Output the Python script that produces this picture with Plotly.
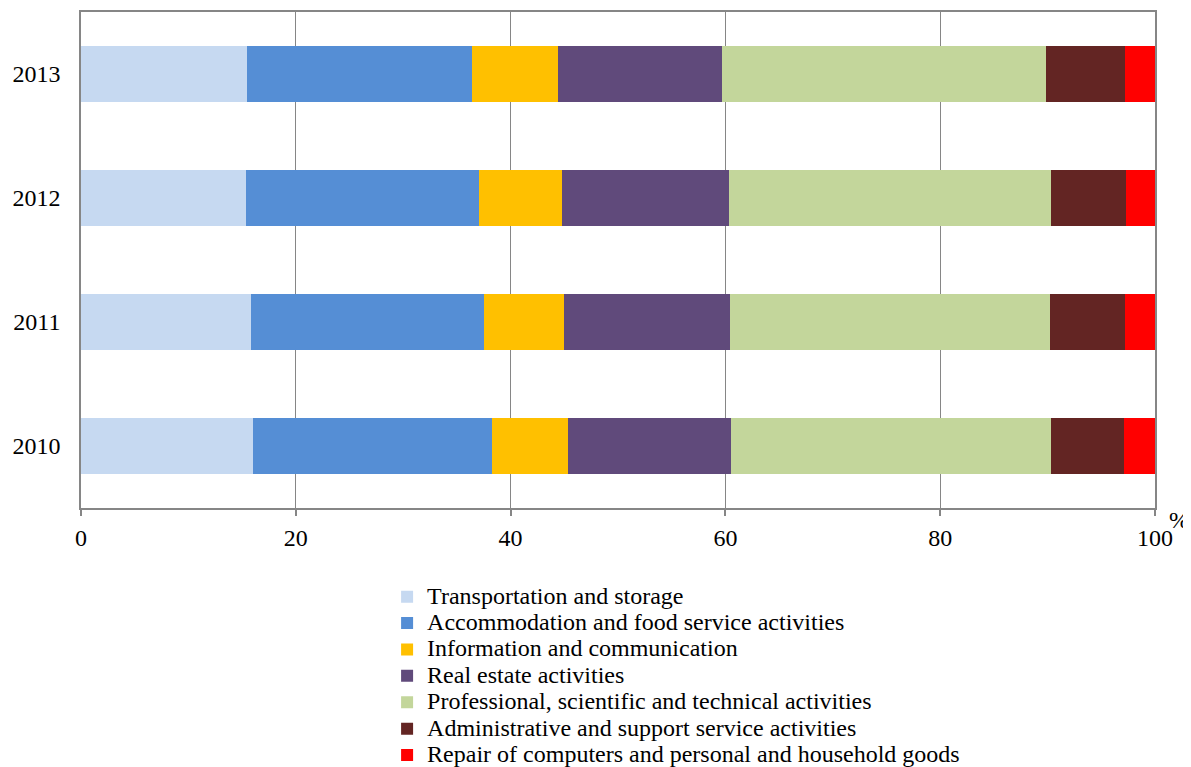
import plotly.graph_objects as go

years = ["2010", "2011", "2012", "2013"]
series_names = [
    "Transportation and storage",
    "Accommodation and food service activities",
    "Information and communication",
    "Real estate activities",
    "Professional, scientific and technical activities",
    "Administrative and support service activities",
    "Repair of computers and personal and household goods",
]
transport = [16.0, 15.8, 15.4, 15.5]
accommodation = [22.3, 21.7, 21.7, 20.9]
information = [7.0, 7.5, 7.7, 8.0]
real_estate = [15.2, 15.4, 15.5, 15.3]
professional = [29.8, 29.8, 30.0, 30.15]
administrative = [6.8, 7.0, 7.0, 7.35]
repair = [3.0, 2.8, 2.8, 2.8]
values = [transport, accommodation, information, real_estate, professional, administrative, repair]
colors = ["#C6D9F1", "#558ED5", "#FFC000", "#604A7B", "#C3D69B", "#632523", "#FF0000"]

x_ticks = [0, 20, 40, 60, 80, 100]

fig = go.Figure()
for name, vals, col in zip(series_names, values, colors):
    fig.add_trace(go.Bar(
        y=years, x=vals, orientation="h",
        name='<span style="font-size:24px">' + name + "</span>",
        marker=dict(color=col, line=dict(width=0)),
    ))

font = dict(family="Liberation Serif", size=24, color="#000000")
legend_font = dict(family="Liberation Serif", size=18, color="#000000")
fig.update_layout(
    barmode="stack",
    bargap=0.55,
    width=1183, height=759,
    margin=dict(l=73, r=36, t=4, b=259, autoexpand=False),
    plot_bgcolor="white", paper_bgcolor="white",
    font=font,
    showlegend=True,
    legend=dict(
        orientation="v",
        x=0.285, xanchor="left",
        y=-0.142, yanchor="top",
        font=legend_font,
        tracegroupgap=0,
        itemwidth=30,
        traceorder="normal",
        bgcolor="rgba(0,0,0,0)",
        borderwidth=0,
    ),
    xaxis=dict(
        range=[0, 100], tickvals=x_ticks, ticktext=[str(v) for v in x_ticks],
        showgrid=True, gridcolor="#868686", gridwidth=1.2,
        showline=True, linecolor="#868686", linewidth=1.6, mirror=True,
        ticks="outside", ticklen=6, tickcolor="#868686", tickwidth=1.6,
        ticklabelstandoff=1,
        zeroline=False, tickfont=font,
    ),
    yaxis=dict(
        showgrid=False, showline=True, linecolor="#868686", linewidth=1.6, mirror=True,
        ticks="", ticklen=0, zeroline=False, tickfont=font,
        ticklabelstandoff=14,
        categoryorder="array", categoryarray=years,
    ),
    annotations=[dict(
        text="%", xref="paper", yref="paper", x=1.0, y=0.0,
        xanchor="left", yanchor="top", xshift=12, yshift=3,
        showarrow=False, font=font,
    )],
)

fig.write_html("out.html")
